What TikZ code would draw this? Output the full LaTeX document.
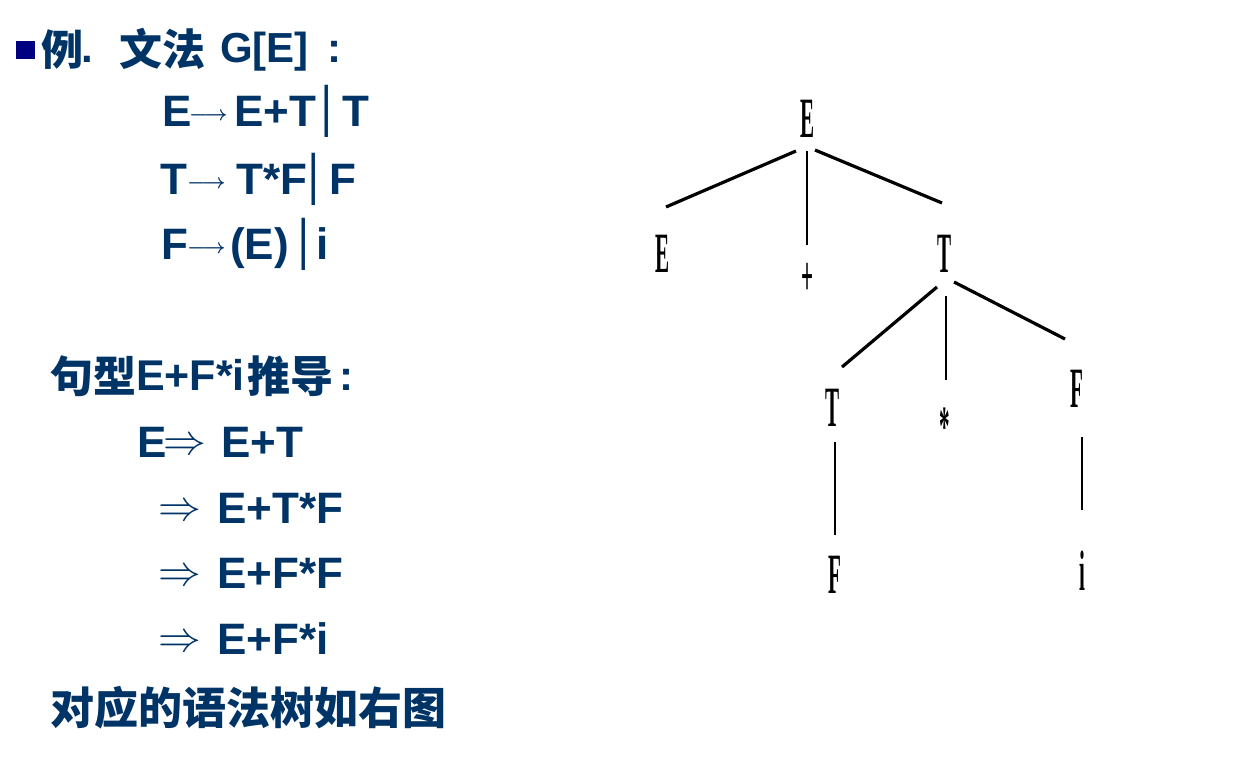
\documentclass[tikz,border=0pt]{standalone}
\usepackage{fontspec}
\usepackage{graphicx}
\setmainfont{Liberation Sans}
\newfontfamily\cjk{Noto Sans CJK SC}
\newfontfamily\dvs{DejaVu Sans}
\newfontfamily\tms{Liberation Serif}
\definecolor{ink}{RGB}{0,51,102}
\definecolor{navyb}{RGB}{0,0,128}
\newcommand\cond[1]{\scalebox{0.37}[1]{#1}}
\newcommand\lra{\raisebox{6pt}{\boldmath$\longrightarrow$}}
\newcommand\dra{\raisebox{2.5pt}{\scalebox{1.72}{$\Rightarrow$}}}
\begin{document}
\begin{tikzpicture}[x=1pt,y=-1pt,
  lat/.style={anchor=base west,inner sep=0pt,text=ink,font=\bfseries\fontsize{44}{44}\selectfont},
  latS/.style={anchor=base west,inner sep=0pt,text=ink,font=\bfseries\fontsize{42}{42}\selectfont},
  zh/.style={anchor=base west,inner sep=0pt,text=ink,font=\cjk\bfseries\fontsize{43}{43}\selectfont},
  arr/.style={anchor=base west,inner sep=0pt,text=ink,font=\fontsize{20.74}{21}\selectfont},
  darr/.style={anchor=base west,inner sep=0pt,text=ink,font=\fontsize{24.88}{25}\selectfont},
  vbar/.style={anchor=base,inner sep=0pt,text=ink,font=\dvs\bfseries\fontsize{44}{44}\selectfont},
  tn/.style={anchor=base,inner sep=0pt,font=\tms\bfseries\fontsize{57}{57}\selectfont},
  thick3/.style={line width=3.2pt},
  thin1/.style={line width=1.6pt}]
\useasboundingbox (0,0) rectangle (1241,765);
% title line
\fill[navyb] (16,41) rectangle (35,59);
\node[zh,font=\cjk\bfseries\fontsize{42}{42}\selectfont] (t1) at (41,66) {例};
\node[latS] (t2) at (81,63) {.};
\node[zh,font=\cjk\bfseries\fontsize{43}{43}\selectfont] (t3) at (119,66) {文法};
\node[latS] (t4) at (220,63) {G[E]};
\node[latS] (t5) at (327,63) {:};
% grammar
\node[lat] (g1a) at (162,127) {E};
\node[arr] (g1b) at (189,127) {\lra};
\node[lat] (g1c) at (234,127) {E+T};
\node[vbar] (g1d) at (327,127) {│};
\node[lat] (g1e) at (342,127) {T};
\node[lat] (g2a) at (160,194) {T};
\node[arr] (g2b) at (187,194) {\lra};
\node[lat] (g2c) at (236,194) {T*F};
\node[vbar] (g2d) at (314,194) {│};
\node[lat] (g2e) at (329,194) {F};
\node[lat] (g3a) at (161,259) {F};
\node[arr] (g3b) at (187,259) {\lra};
\node[lat] (g3c) at (230,259) {(E)};
\node[vbar] (g3d) at (304,259) {│};
\node[lat] (g3e) at (316,259) {i};
% derivation
\node[zh] (d0a) at (50,392) {句型};
\node[lat,font=\bfseries\fontsize{43}{43}\selectfont] (d0b) at (136,390) {E+F*i};
\node[zh] (d0c) at (247,392) {推导};
\node[lat,font=\bfseries\fontsize{42}{42}\selectfont] (d0d) at (339,390) {:};
\node[lat] (d1a) at (137,457) {E};
\node[darr] (d1b) at (163,457) {\dra};
\node[lat] (d1c) at (221,457) {E+T};
\node[darr] (d2b) at (158,523) {\dra};
\node[lat] (d2c) at (217,523) {E+T*F};
\node[darr] (d3b) at (158,588) {\dra};
\node[lat] (d3c) at (217,588) {E+F*F};
\node[darr] (d4b) at (158,654) {\dra};
\node[lat] (d4c) at (217,654) {E+F*i};
\node[zh,font=\cjk\bfseries\fontsize{44}{44}\selectfont] (d5) at (50,724) {对应的语法树如右图};
% tree
\node[tn] (rE) at (808,137) {\cond{E}};
\node[tn] (E1) at (663,272) {\cond{E}};
\node[tn] (pl) at (807,295) {\cond{+}};
\node[tn] (T1) at (945,272) {\cond{T}};
\node[tn] (T2) at (833,426) {\cond{T}};
\node[tn] (st) at (945,445) {\cond{*}};
\node[tn] (F1) at (1077,407) {\cond{F}};
\node[tn] (F2) at (835,593) {\cond{F}};
\node[tn] (ii) at (1082,590) {\cond{i}};
\draw[thick3] ([shift={(-12pt,-14pt)}]rE.base) -- ([shift={(3pt,65pt)}]E1.base);
\draw[thin1] ([shift={(-1pt,-14pt)}]rE.base) -- ([shift={(0pt,50pt)}]pl.base);
\draw[thick3] ([shift={(7pt,-13pt)}]rE.base) -- ([shift={(-3pt,69pt)}]T1.base);
\draw[thick3] ([shift={(-8pt,-15pt)}]T1.base) -- ([shift={(9pt,59pt)}]T2.base);
\draw[thin1] ([shift={(1pt,-24pt)}]T1.base) -- ([shift={(1pt,65pt)}]st.base);
\draw[thick3] ([shift={(9pt,-10pt)}]T1.base) -- ([shift={(-12pt,68pt)}]F1.base);
\draw[thin1] ([shift={(2pt,-16pt)}]T2.base) -- ([shift={(0pt,58pt)}]F2.base);
\draw[thin1] ([shift={(5pt,-30pt)}]F1.base) -- ([shift={(0pt,80pt)}]ii.base);
\end{tikzpicture}
\end{document}
